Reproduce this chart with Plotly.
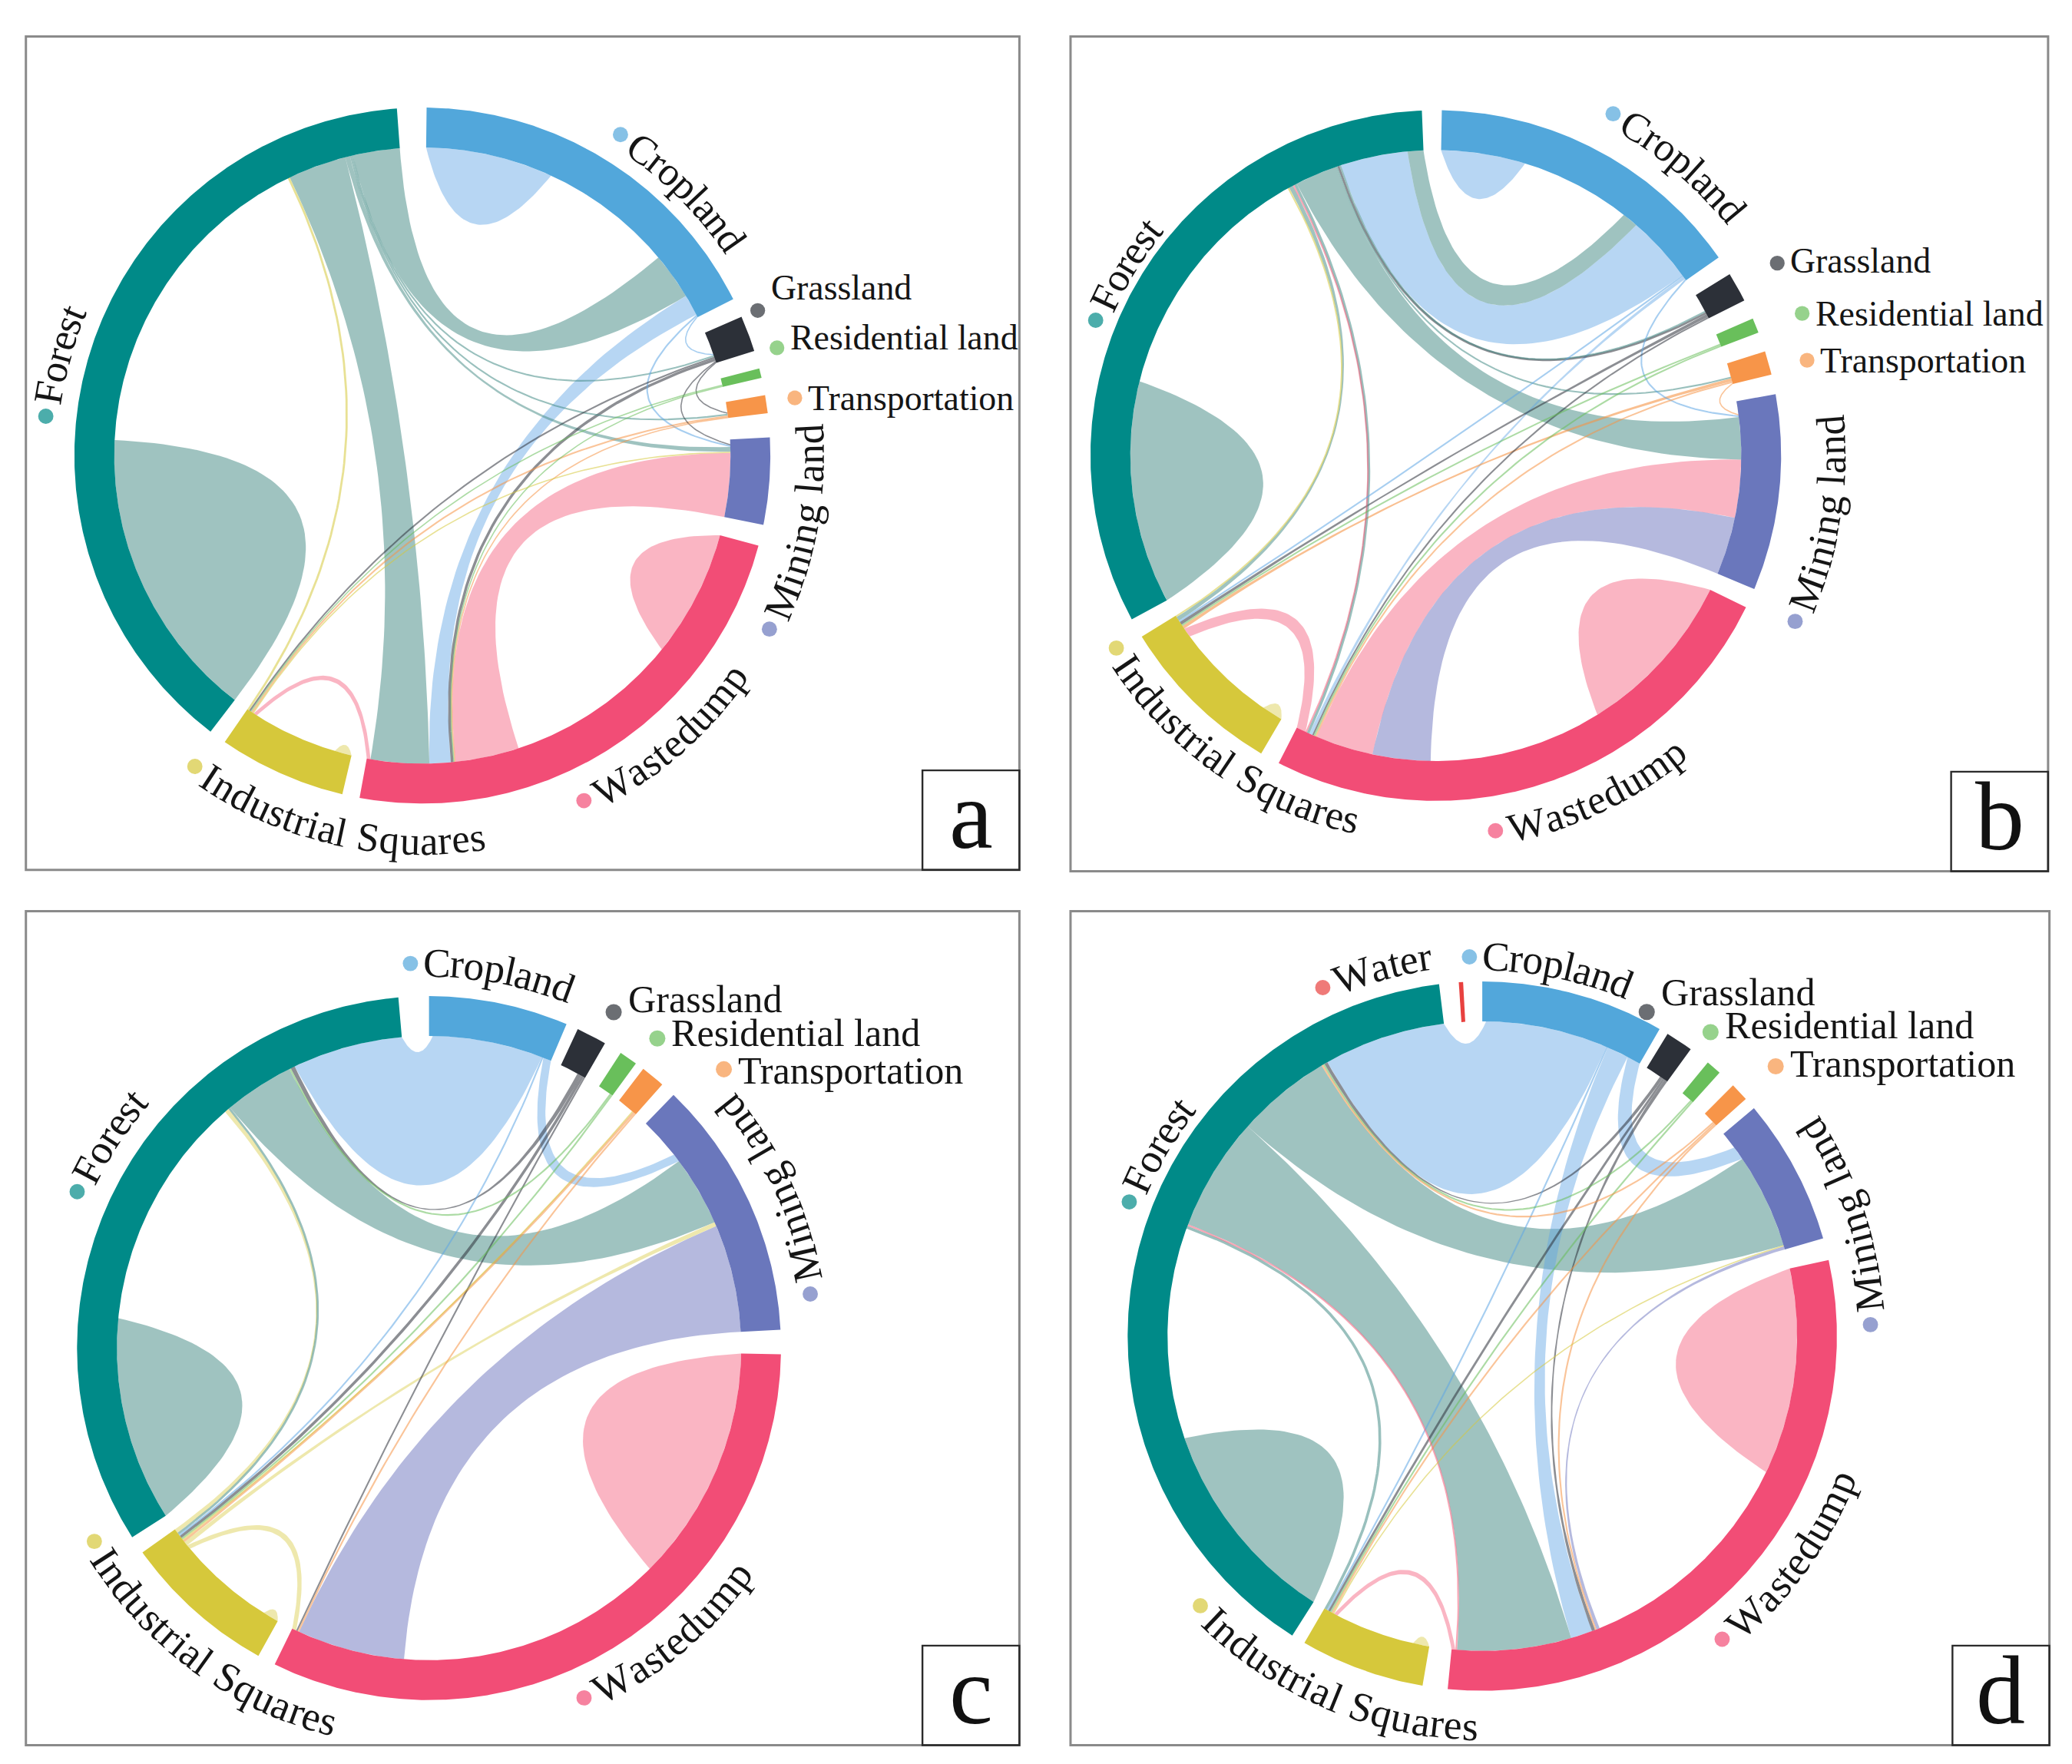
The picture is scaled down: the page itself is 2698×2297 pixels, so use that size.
import math
import plotly.graph_objects as go

# ======================= DATA =======================
NAMES = {"C": "Cropland", "G": "Grassland", "R": "Residential land", "T": "Transportation",
         "M": "Mining land", "W": "Wastedump", "I": "Industrial Squares", "F": "Forest", "A": "Water"}

ORDER_ABC = ["C", "G", "R", "T", "M", "W", "I", "F"]
ORDER_D = ["C", "G", "R", "T", "M", "W", "I", "F", "A"]

# sector totals (same order as ORDER_*)
SIZES_A = [62.6, 6.0, 1.6, 3.0, 14.5, 85.4, 21.3, 138.3]
SIZES_B = [54.0, 5.0, 2.5, 4.0, 33.0, 91.0, 28.0, 116.0]
SIZES_C = [23.0, 5.0, 3.0, 4.0, 43.0, 115.0, 25.5, 117.5]
SIZES_D = [30.0, 4.5, 2.5, 3.0, 24.0, 108.0, 20.4, 140.6, 0.7]

# flows (source, target, value)
FLOWS_A = [("F", "F", 27.7), ("C", "C", 12.0), ("W", "W", 12.0), ("I", "I", 1.6),
           ("F", "W", 11.0), ("F", "C", 8.8), ("F", "M", 0.9), ("F", "G", 0.3), ("F", "T", 0.3),
           ("C", "W", 4.0), ("C", "M", 0.3), ("C", "G", 0.2),
           ("W", "M", 12.0), ("W", "I", 0.7),
           ("G", "W", 0.5), ("G", "I", 0.3), ("G", "T", 0.2), ("G", "M", 0.2),
           ("R", "I", 0.2), ("R", "W", 0.2), ("T", "I", 0.3), ("T", "W", 0.2),
           ("I", "F", 0.4), ("I", "M", 0.2)]

FLOWS_B = [("F", "F", 21.2), ("C", "C", 8.0), ("W", "W", 16.0), ("I", "I", 2.0),
           ("F", "M", 8.0), ("C", "F", 12.8), ("F", "C", 3.0), ("F", "W", 0.5), ("F", "I", 0.8),
           ("F", "G", 0.3), ("F", "T", 0.3),
           ("W", "M", 11.0), ("M", "W", 11.0), ("W", "I", 1.8), ("W", "F", 0.3),
           ("C", "W", 0.6), ("C", "I", 0.3), ("C", "M", 0.3),
           ("G", "I", 0.6), ("G", "F", 0.4), ("G", "W", 0.3),
           ("R", "I", 0.3), ("R", "W", 0.3), ("T", "I", 0.6), ("T", "W", 0.3), ("T", "M", 0.2),
           ("I", "F", 0.3)]

FLOWS_C = [("F", "F", 19.0), ("W", "W", 22.0), ("I", "I", 1.5),
           ("C", "F", 20.5), ("C", "M", 1.5), ("C", "I", 0.3),
           ("F", "M", 13.0), ("F", "I", 0.4),
           ("G", "F", 0.8), ("G", "I", 0.5), ("G", "W", 0.3),
           ("R", "F", 0.3), ("R", "I", 0.3), ("T", "I", 0.4), ("T", "W", 0.3),
           ("M", "W", 20.0),
           ("I", "F", 0.8), ("I", "M", 0.8), ("I", "T", 0.2), ("I", "W", 0.8)]

FLOWS_D = [("F", "F", 19.35), ("W", "W", 19.0), ("I", "I", 1.5),
           ("C", "F", 22.5), ("C", "W", 4.0), ("C", "M", 2.5), ("C", "I", 0.3),
           ("F", "W", 21.0), ("F", "M", 17.5), ("F", "I", 0.5),
           ("G", "F", 0.6), ("G", "W", 0.6), ("G", "I", 0.4),
           ("R", "F", 0.3), ("R", "I", 0.3), ("T", "F", 0.3), ("T", "W", 0.3), ("T", "I", 0.3),
           ("M", "W", 0.6), ("W", "I", 0.7), ("W", "F", 0.3), ("I", "M", 0.2)]

PANEL_LETTERS = ["a", "b", "c", "d"]

# ======================= STYLE / LAYOUT =======================
PAGE_W, PAGE_H = 2698, 2297
K = PAGE_W / 1560.0          # reference-display px -> page px
VW, VH = PAGE_W / K, PAGE_H / K
FONT = "Liberation Serif, Times New Roman, serif"

RING = {"F": "#008A88", "C": "#52A7DB", "G": "#2C3038", "R": "#69BF5B", "T": "#F79549",
        "M": "#6A77BC", "W": "#F24D76", "I": "#D6C83B", "A": "#E8413F"}
LINK = {"F": (70, 140, 135, 0.52), "C": (95, 165, 228, 0.45), "W": (244, 92, 122, 0.45),
        "M": (108, 116, 190, 0.50), "I": (214, 200, 60, 0.42), "G": (45, 50, 58, 0.55),
        "R": (104, 190, 90, 0.60), "T": (245, 148, 70, 0.60), "A": (232, 64, 62, 0.60)}

# label placement: curved ("cw"/"ccw": mid angle, radius factor) or horizontal ("h": dot angle, radius, dy)
LABELS_A = {"C": ("cw", 43.5, 1.084), "F": ("cw", 284, 1.088), "M": ("ccw", 101.5, 1.115),
            "W": ("ccw", 140, 1.095), "I": ("ccw", 194, 1.107),
            "G": ("h", 66.6, 1.05, -17), "R": ("h", 73.1, 1.065, -8), "T": ("h", 81.2, 1.083, 0)}
LABELS_B = {"C": ("cw", 39, 1.115), "F": ("cw", 300, 1.06), "M": ("ccw", 100, 1.146),
            "W": ("ccw", 156, 1.10), "I": ("ccw", 216, 1.08),
            "G": ("h", 60.6, 1.135, -2), "R": ("h", 68.8, 1.138, 0), "T": ("h", 75.6, 1.11, 0)}
LABELS_C = {"C": ("cw", 9, 1.094), "F": ("cw", 302, 1.094), "M": ("ccw", 66.5, 1.094),
            "W": ("ccw", 141, 1.087), "I": ("ccw", 217.5, 1.098),
            "G": ("h", 28.8, 1.089, -10), "R": ("h", 36.4, 1.093, -4), "T": ("h", 46.6, 1.153, 1)}
LABELS_D = {"A": ("cw", 343.3, 1.081), "C": ("cw", 10, 1.07), "F": ("cw", 299, 1.065),
            "M": ("ccw", 73, 1.095), "W": ("ccw", 126.7, 1.09), "I": ("ccw", 204, 1.10),
            "G": ("h", 26.9, 1.025, -15), "R": ("h", 36.9, 1.072, -5), "T": ("h", 47.4, 1.124, -2)}

PANELS = [
    dict(order=ORDER_ABC, sizes=SIZES_A, flows=FLOWS_A, labels=LABELS_A, letter="a",
         frame=(19.5, 27.5, 767.5, 655), cx=318, cy=343, rx=262, ry=262, thick=30, start=0.7,
         gaps=[3.2, 3.0, 2.9, 4.0, 3.5, 2.9, 2.9, 4.9], fs=26.5, fsc=30.5),
    dict(order=ORDER_ABC, sizes=SIZES_B, flows=FLOWS_B, labels=LABELS_B, letter="b",
         frame=(806, 27.5, 1542, 656), cx=1081, cy=343, rx=260, ry=260, thick=30, start=1.0,
         gaps=[3.3125] * 8, fs=26.5, fsc=30.5),
    dict(order=ORDER_ABC, sizes=SIZES_C, flows=FLOWS_C, labels=LABELS_C, letter="c",
         frame=(19.5, 686, 767.5, 1314), cx=323, cy=1015, rx=265, ry=265, thick=30, start=0.0,
         gaps=[2, 3, 1.5, 2.5, 4, 3, 3, 5], fs=29, fsc=31),
    dict(order=ORDER_D, sizes=SIZES_D, flows=FLOWS_D, labels=LABELS_D, letter="d",
         frame=(806, 686, 1543, 1314), cx=1116, cy=1006, rx=267, ry=267, thick=30, start=0.0,
         gaps=[1.5, 3.5, 3.0, 2.0, 3.6, 4.1, 2.3, 3.2, 3.1], fs=29, fsc=31),
]

TIMES_W = {' ': 250, 'a': 444, 'b': 500, 'c': 444, 'd': 500, 'e': 444, 'f': 333, 'g': 500, 'h': 500,
           'i': 278, 'j': 278, 'k': 500, 'l': 278, 'm': 778, 'n': 500, 'o': 500, 'p': 500, 'q': 500,
           'r': 333, 's': 389, 't': 278, 'u': 500, 'v': 500, 'w': 722, 'x': 500, 'y': 500, 'z': 444,
           'C': 667, 'F': 556, 'G': 722, 'I': 333, 'M': 889, 'R': 667, 'S': 556, 'T': 611, 'W': 944}


# ======================= GEOMETRY HELPERS =======================
def rgba(c, a=None):
    r, g, b, al = c
    return "rgba(%d,%d,%d,%.3f)" % (r, g, b, al if a is None else a)


def polar(th, rho):
    t = math.radians(th)
    return rho * math.sin(t), rho * math.cos(t)


def to_xy(P, pts):
    xs = [P["cx"] + P["rx"] * u for u, v in pts]
    ys = [P["cy"] - P["ry"] * v for u, v in pts]
    return xs, ys


def arc_pts(t0, t1, rho):
    n = max(2, int(abs(t1 - t0) / 0.4) + 2)
    return [polar(t0 + (t1 - t0) * i / (n - 1), rho) for i in range(n)]


def bez_pts(t1, t2, rho, n=60):
    p1 = polar(t1, rho)
    p2 = polar(t2, rho)
    d = abs((t2 - t1 + 180.0) % 360.0 - 180.0)
    a = math.radians(d / 2.0)
    c = max(rho * (math.cos(a) - 2.0 * math.sin(a)), 0.0)
    mx, my = p1[0] + p2[0], p1[1] + p2[1]
    nm = math.hypot(mx, my)
    cp = (c * mx / nm, c * my / nm) if nm > 1e-9 else (0.0, 0.0)
    out = []
    for i in range(n):
        s = i / (n - 1)
        out.append(((1 - s) ** 2 * p1[0] + 2 * s * (1 - s) * cp[0] + s * s * p2[0],
                    (1 - s) ** 2 * p1[1] + 2 * s * (1 - s) * cp[1] + s * s * p2[1]))
    return out


def chord_layout(order, sizes, gaps, start, flows):
    k = (360.0 - sum(gaps)) / sum(sizes)
    sec, t = {}, start
    for g, s, gp in zip(order, sizes, gaps):
        sec[g] = (t, t + s * k)
        t += s * k + gp
    mid = {g: (a + b) / 2 for g, (a, b) in sec.items()}
    ends = {g: [] for g in order}
    for idx, (s, tg, v) in enumerate(flows):
        if s == tg:
            ends[s].append(((0, 0, 0), idx, "self"))
        else:
            ends[s].append(((1, -((mid[tg] - mid[s]) % 360), 1), idx, "out"))
            ends[tg].append(((1, -((mid[s] - mid[tg]) % 360), 0), idx, "in"))
    pos = {}
    for g in order:
        a0, a1 = sec[g]
        items = sorted(ends[g], key=lambda e: e[0])
        used = sum(flows[i][2] * (2 if r == "self" else 1) for _, i, r in items) * k
        blank = max((a1 - a0) - used, 0.0)
        cur = a0
        for _, i, r in items:
            if r == "self":
                w = flows[i][2] * k
                pos[(i, "out")] = (cur, cur + w)
                cur += w
                pos[(i, "in")] = (cur, cur + w)
                cur += w
        cur += blank
        for _, i, r in items:
            if r != "self":
                w = flows[i][2] * k
                pos[(i, r)] = (cur, cur + w)
                cur += w
    return sec, pos


# ======================= BUILD FIGURE =======================
fig = go.Figure()
annotations = []
shapes = []

for P in PANELS:
    rho_in = 1.0 - P["thick"] / ((P["rx"] + P["ry"]) / 2.0)
    R_link = rho_in * (P["rx"] + P["ry"]) / 2.0
    sec, pos = chord_layout(P["order"], P["sizes"], P["gaps"], P["start"], P["flows"])
    flows = P["flows"]
    idxs = sorted(range(len(flows)), key=lambda i: -flows[i][2])
    thin = []
    for i in idxs:
        s, tg, v = flows[i]
        s0, s1 = pos[(i, "out")]
        t0, t1 = pos[(i, "in")]
        wpx = math.radians(s1 - s0) * R_link
        if wpx < 2.2:
            thin.append(i)
            continue
        pts = (arc_pts(s0, s1, rho_in) + bez_pts(s1, t0, rho_in) +
               arc_pts(t0, t1, rho_in) + bez_pts(t1, s0, rho_in))
        xs, ys = to_xy(P, pts)
        fig.add_trace(go.Scatter(x=xs, y=ys, mode="lines", fill="toself",
                                 fillcolor=rgba(LINK[s]), line=dict(width=0, color=rgba(LINK[s])),
                                 hoverinfo="skip", showlegend=False))
    for i in thin:
        s, tg, v = flows[i]
        s0, s1 = pos[(i, "out")]
        t0, t1 = pos[(i, "in")]
        wpx = math.radians(s1 - s0) * R_link
        pts = bez_pts((s0 + s1) / 2, (t0 + t1) / 2, rho_in)
        xs, ys = to_xy(P, pts)
        fig.add_trace(go.Scatter(x=xs, y=ys, mode="lines",
                                 line=dict(width=max(wpx * K, 1.6), color=rgba(LINK[s], 0.55)),
                                 hoverinfo="skip", showlegend=False))
    # ring sectors
    for g in P["order"]:
        a0, a1 = sec[g]
        pts = arc_pts(a0, a1, 1.0) + arc_pts(a1, a0, rho_in)
        xs, ys = to_xy(P, pts)
        fig.add_trace(go.Scatter(x=xs, y=ys, mode="lines", fill="toself", fillcolor=RING[g],
                                 line=dict(width=0, color=RING[g]), hoverinfo="skip",
                                 showlegend=False))

    # labels
    Ravg = (P["rx"] + P["ry"]) / 2.0
    dxs, dys, dcs, dss = [], [], [], []
    for g, spec in P["labels"].items():
        text = NAMES[g]
        mode = spec[0]
        if mode == "h":
            fs = P["fs"]
            dot_d, gap = 0.42 * fs, 0.12 * fs
            _, th, rho, dy = spec
            (xd,), (yd,) = to_xy(P, [polar(th, rho)])
            dxs.append(xd); dys.append(yd); dcs.append(RING[g]); dss.append(dot_d * K)
            annotations.append(dict(x=xd + dot_d / 2 + gap, y=yd + dy, text=text, showarrow=False,
                                    xanchor="left", yanchor="middle",
                                    font=dict(family=FONT, size=fs * K, color="#151515")))
            continue
        fs = P["fsc"]
        dot_d, gap = 11.5, 0.12 * fs
        _, th_mid, rho = spec
        r = rho * Ravg
        widths = [TIMES_W.get(ch, 500) / 1000.0 * fs for ch in text]
        total = dot_d + gap + sum(widths)
        sign = 1 if mode == "cw" else -1
        th0 = th_mid - sign * math.degrees(total / 2.0 / r)
        thd = th0 + sign * math.degrees(dot_d / 2.0 / r)
        (xd,), (yd,) = to_xy(P, [polar(thd, rho)])
        dxs.append(xd); dys.append(yd); dcs.append(RING[g]); dss.append(dot_d * K)
        sacc = dot_d + gap
        for ch, w in zip(text, widths):
            thc = th0 + sign * math.degrees((sacc + w / 2.0) / r)
            sacc += w
            if ch == " ":
                continue
            (xc,), (yc,) = to_xy(P, [polar(thc, rho)])
            ang = thc if mode == "cw" else thc - 180.0
            ang = (ang + 180.0) % 360.0 - 180.0
            annotations.append(dict(x=xc, y=yc, text=ch, showarrow=False, textangle=ang,
                                    xanchor="center", yanchor="middle",
                                    font=dict(family=FONT, size=fs * K, color="#151515")))
    fig.add_trace(go.Scatter(x=dxs, y=dys, mode="markers",
                             marker=dict(size=dss, color=dcs, line=dict(width=0)),
                             hoverinfo="skip", showlegend=False))

    # frame and letter box
    x0, y0, x1, y1 = P["frame"]
    shapes.append(dict(type="rect", xref="x", yref="y", x0=x0, y0=y0, x1=x1, y1=y1,
                       line=dict(color="#8a8a8a", width=3), fillcolor="rgba(0,0,0,0)", layer="below"))
    bw, bh = 73, 75
    shapes.append(dict(type="rect", xref="x", yref="y", x0=x1 - bw, y0=y1 - bh, x1=x1, y1=y1,
                       line=dict(color="#2a2a2a", width=2.4), fillcolor="rgba(0,0,0,0)"))
    annotations.append(dict(x=x1 - bw / 2.0, y=y1 - bh / 2.0 - 4, text=P["letter"], showarrow=False,
                            xanchor="center", yanchor="middle",
                            font=dict(family=FONT, size=74 * K, color="#111111")))

fig.update_layout(width=PAGE_W, height=PAGE_H, margin=dict(l=0, r=0, t=0, b=0),
                  paper_bgcolor="white", plot_bgcolor="white", showlegend=False,
                  xaxis=dict(range=[0, VW], visible=False, fixedrange=True, showgrid=False),
                  yaxis=dict(range=[VH, 0], visible=False, fixedrange=True, showgrid=False),
                  annotations=annotations, shapes=shapes)

fig.write_html("out.html", config={"displayModeBar": False},
               post_script="document.body.style.margin='0px';document.body.style.overflow='hidden';")
